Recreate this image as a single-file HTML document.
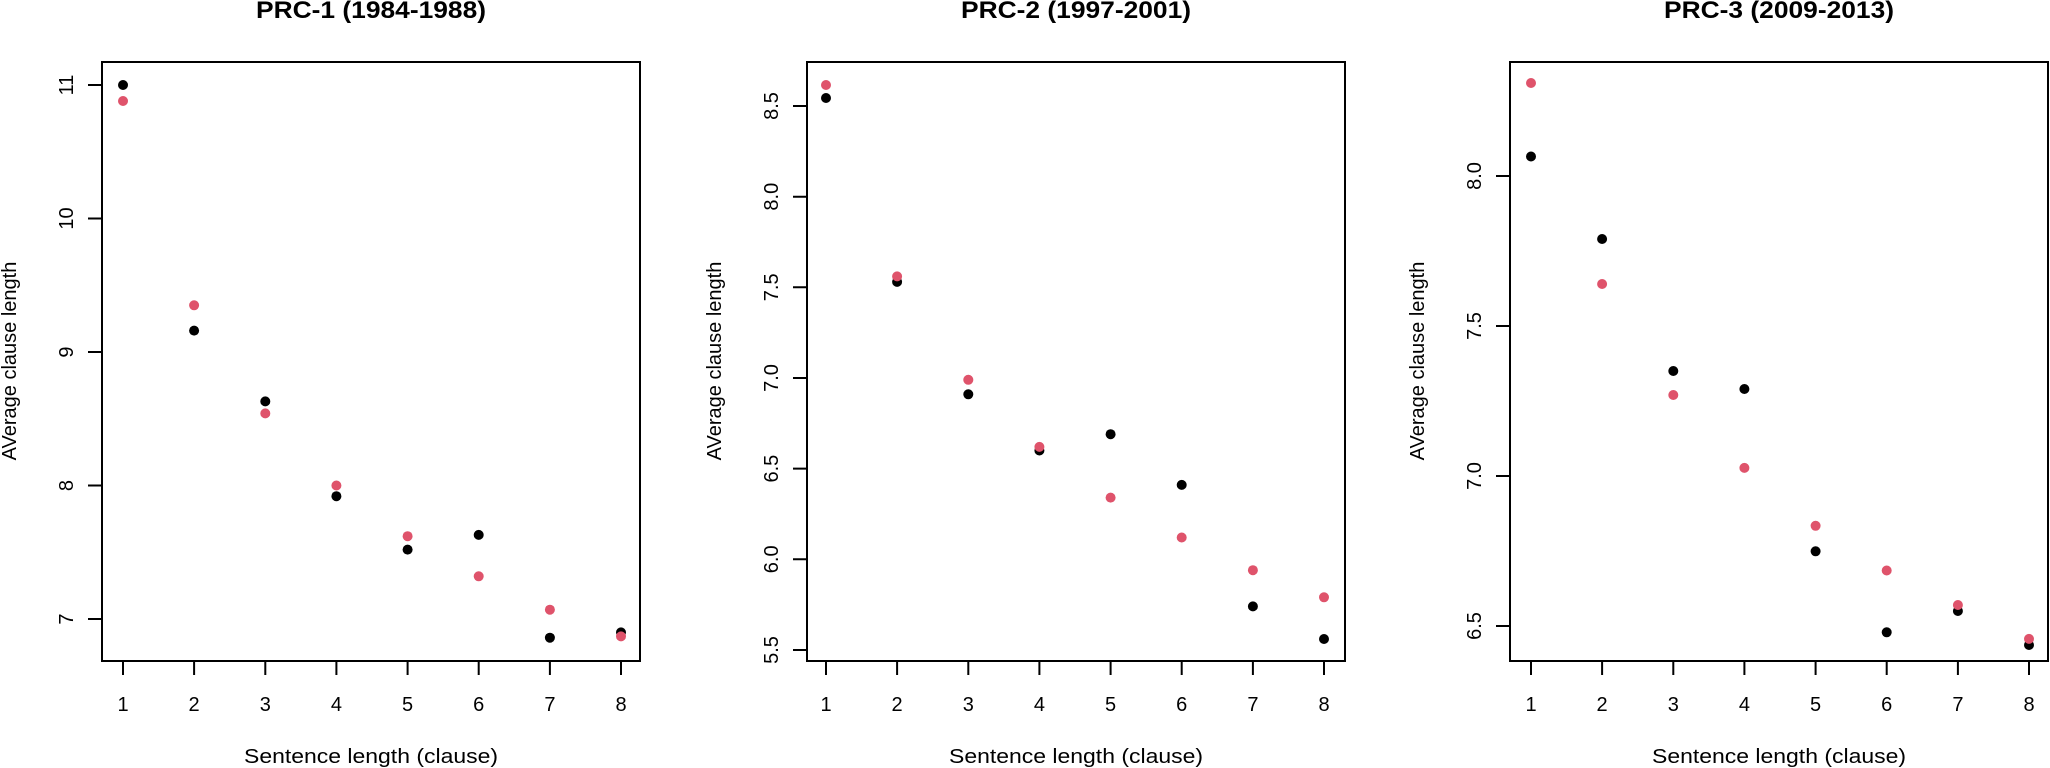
<!DOCTYPE html>
<html><head><meta charset="utf-8"><style>
html,body{margin:0;padding:0;background:#fff;}
svg{display:block;font-family:"Liberation Sans",Arial,sans-serif;}
</style></head><body>
<svg width="2050" height="768" viewBox="0 0 2050 768" xmlns="http://www.w3.org/2000/svg">
<g fill="none" stroke="#000" stroke-width="2">
<rect x="102" y="62" width="538" height="599"/>
<rect x="807" y="62" width="538" height="599"/>
<rect x="1510" y="62" width="538" height="599"/>
<path d="M123 661v14M194.1 661v14M265.3 661v14M336.4 661v14M407.6 661v14M478.7 661v14M549.9 661v14M621 661v14"/>
<path d="M826 661v14M897.1 661v14M968.3 661v14M1039.4 661v14M1110.6 661v14M1181.7 661v14M1252.9 661v14M1324 661v14"/>
<path d="M1531 661v14M1602.1 661v14M1673.3 661v14M1744.4 661v14M1815.6 661v14M1886.7 661v14M1957.9 661v14M2029 661v14"/>
<path d="M88 619h14M88 485.5h14M88 352h14M88 218.5h14M88 85h14"/>
<path d="M793 106h14M793 196.7h14M793 287.3h14M793 378h14M793 468.6h14M793 559.3h14M793 650h14"/>
<path d="M1496 176h14M1496 326h14M1496 476h14M1496 626h14"/>
</g>
<g font-weight="bold" font-size="24" text-anchor="middle">
<text x="371" y="18" textLength="230" lengthAdjust="spacingAndGlyphs">PRC-1 (1984-1988)</text>
<text x="1076" y="18" textLength="230" lengthAdjust="spacingAndGlyphs">PRC-2 (1997-2001)</text>
<text x="1779" y="18" textLength="230" lengthAdjust="spacingAndGlyphs">PRC-3 (2009-2013)</text>
</g>
<g font-size="20" text-anchor="middle">
<text x="371" y="763" textLength="254" lengthAdjust="spacingAndGlyphs">Sentence length (clause)</text>
<text x="1076" y="763" textLength="254" lengthAdjust="spacingAndGlyphs">Sentence length (clause)</text>
<text x="1779" y="763" textLength="254" lengthAdjust="spacingAndGlyphs">Sentence length (clause)</text>
<text transform="translate(16,361) rotate(-90)">AVerage clause length</text>
<text transform="translate(721,361) rotate(-90)">AVerage clause length</text>
<text transform="translate(1424,361) rotate(-90)">AVerage clause length</text>
</g>
<g font-size="20" text-anchor="middle">
<text x="123" y="711">1</text><text x="194.1" y="711">2</text><text x="265.3" y="711">3</text><text x="336.4" y="711">4</text><text x="407.6" y="711">5</text><text x="478.7" y="711">6</text><text x="549.9" y="711">7</text><text x="621" y="711">8</text>
<text x="826" y="711">1</text><text x="897.1" y="711">2</text><text x="968.3" y="711">3</text><text x="1039.4" y="711">4</text><text x="1110.6" y="711">5</text><text x="1181.7" y="711">6</text><text x="1252.9" y="711">7</text><text x="1324" y="711">8</text>
<text x="1531" y="711">1</text><text x="1602.1" y="711">2</text><text x="1673.3" y="711">3</text><text x="1744.4" y="711">4</text><text x="1815.6" y="711">5</text><text x="1886.7" y="711">6</text><text x="1957.9" y="711">7</text><text x="2029" y="711">8</text>
<text transform="translate(73,619) rotate(-90)">7</text>
<text transform="translate(73,485.5) rotate(-90)">8</text>
<text transform="translate(73,352) rotate(-90)">9</text>
<text transform="translate(73,218.5) rotate(-90)">10</text>
<text transform="translate(73,85) rotate(-90)">11</text>
<text transform="translate(778,106) rotate(-90)">8.5</text>
<text transform="translate(778,196.7) rotate(-90)">8.0</text>
<text transform="translate(778,287.3) rotate(-90)">7.5</text>
<text transform="translate(778,378) rotate(-90)">7.0</text>
<text transform="translate(778,468.6) rotate(-90)">6.5</text>
<text transform="translate(778,559.3) rotate(-90)">6.0</text>
<text transform="translate(778,650) rotate(-90)">5.5</text>
<text transform="translate(1481,176) rotate(-90)">8.0</text>
<text transform="translate(1481,326) rotate(-90)">7.5</text>
<text transform="translate(1481,476) rotate(-90)">7.0</text>
<text transform="translate(1481,626) rotate(-90)">6.5</text>
</g>
<g fill="#000">
<circle cx="123" cy="85" r="5"/><circle cx="194.1" cy="330.6" r="5"/><circle cx="265.3" cy="401.4" r="5"/><circle cx="336.4" cy="496.2" r="5"/><circle cx="407.6" cy="549.6" r="5"/><circle cx="478.7" cy="534.9" r="5"/><circle cx="549.9" cy="637.7" r="5"/><circle cx="621" cy="632.4" r="5"/>
<circle cx="826" cy="98" r="5"/><circle cx="897.1" cy="281.9" r="5"/><circle cx="968.3" cy="394.3" r="5"/><circle cx="1039.4" cy="450.5" r="5"/><circle cx="1110.6" cy="434.2" r="5"/><circle cx="1181.7" cy="484.9" r="5"/><circle cx="1252.9" cy="606.4" r="5"/><circle cx="1324" cy="639" r="5"/>
<circle cx="1531" cy="156.5" r="5"/><circle cx="1602.1" cy="239" r="5"/><circle cx="1673.3" cy="371" r="5"/><circle cx="1744.4" cy="389" r="5"/><circle cx="1815.6" cy="551.3" r="5"/><circle cx="1886.7" cy="632.3" r="5"/><circle cx="1957.9" cy="611" r="5"/><circle cx="2029" cy="645" r="5"/>
</g>
<g fill="#DF536B">
<circle cx="123" cy="101" r="5"/><circle cx="194.1" cy="305.3" r="5"/><circle cx="265.3" cy="413.4" r="5"/><circle cx="336.4" cy="485.5" r="5"/><circle cx="407.6" cy="536.2" r="5"/><circle cx="478.7" cy="576.3" r="5"/><circle cx="549.9" cy="609.7" r="5"/><circle cx="621" cy="636.4" r="5"/>
<circle cx="826" cy="85" r="5"/><circle cx="897.1" cy="276.4" r="5"/><circle cx="968.3" cy="379.8" r="5"/><circle cx="1039.4" cy="446.9" r="5"/><circle cx="1110.6" cy="497.6" r="5"/><circle cx="1181.7" cy="537.5" r="5"/><circle cx="1252.9" cy="570.2" r="5"/><circle cx="1324" cy="597.3" r="5"/>
<circle cx="1531" cy="83" r="5"/><circle cx="1602.1" cy="284" r="5"/><circle cx="1673.3" cy="395" r="5"/><circle cx="1744.4" cy="467.9" r="5"/><circle cx="1815.6" cy="525.8" r="5"/><circle cx="1886.7" cy="570.5" r="5"/><circle cx="1957.9" cy="605" r="5"/><circle cx="2029" cy="638.9" r="5"/>
</g>
</svg>
</body></html>
